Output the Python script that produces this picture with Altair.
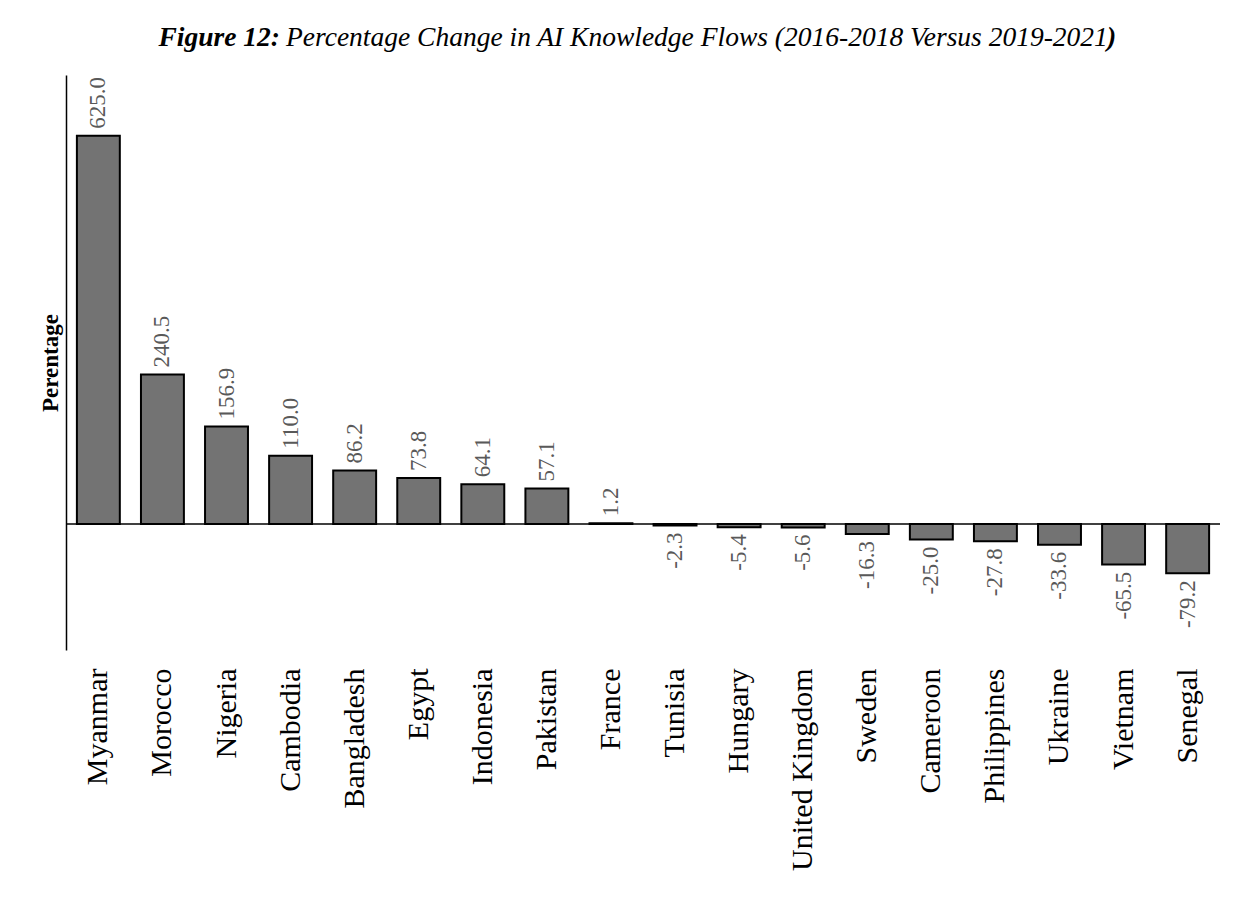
import altair as alt
import pandas as pd

countries = ["Myanmar", "Morocco", "Nigeria", "Cambodia", "Bangladesh", "Egypt",
             "Indonesia", "Pakistan", "France", "Tunisia", "Hungary", "United Kingdom",
             "Sweden", "Cameroon", "Philippines", "Ukraine", "Vietnam", "Senegal"]
values = [625.0, 240.5, 156.9, 110.0, 86.2, 73.8, 64.1, 57.1, 1.2, -2.3, -5.4, -5.6,
          -16.3, -25.0, -27.8, -33.6, -65.5, -79.2]

title_bold = "Figure 12:"
title_main = "Percentage Change in AI Knowledge Flows (2016-2018 Versus 2019-2021"
title_end = ")"

df = pd.DataFrame({"country": countries, "value": values})
df["label"] = df["value"].map(lambda v: f"{v:.1f}")

FONT = "Liberation Serif"

x = alt.X("country:N", sort=countries, title=None,
          scale=alt.Scale(paddingInner=0.33, paddingOuter=0.17),
          axis=alt.Axis(labelAngle=-90, labelAlign="right", labelBaseline="middle",
                        labelFont=FONT, labelFontSize=30, labelColor="black",
                        labelPadding=18, labelLimit=0, ticks=False, domain=False))
y = alt.Y("value:Q", title="Perentage",
          scale=alt.Scale(domain=[-203, 723], nice=False, zero=False),
          axis=alt.Axis(labels=False, ticks=False, grid=False, domain=True,
                        domainColor="black", domainWidth=1.5,
                        titleFont=FONT, titleFontSize=23, titleFontWeight="bold",
                        titleColor="black", titlePadding=4))

base = alt.Chart(df)

bars = base.mark_bar(color="#737373", stroke="black", strokeWidth=2).encode(x=x, y=y)

zero = alt.Chart(pd.DataFrame({"z": [0]})).mark_rule(color="black", strokeWidth=1.5).encode(
    y=alt.Y("z:Q"))

pos_labels = base.transform_filter("datum.value >= 0").mark_text(
    angle=270, align="left", baseline="middle", dx=7, font=FONT, fontSize=23,
    color="#595959").encode(x=x, y=y, text="label:N")

neg_labels = base.transform_filter("datum.value < 0").mark_text(
    angle=270, align="right", baseline="middle", dx=-7, font=FONT, fontSize=23,
    color="#595959").encode(x=x, y=y, text="label:N")

title_df = pd.DataFrame({"a": [title_bold], "b": [title_main], "c": [title_end]})

t1 = alt.Chart(title_df).mark_text(align="right", baseline="alphabetic", font=FONT,
                                   fontSize=27.5, fontWeight="bold", fontStyle="italic",
                                   color="black").encode(
    x=alt.value(214), y=alt.value(-29), text="a:N")
t2 = alt.Chart(title_df).mark_text(align="left", baseline="alphabetic", font=FONT,
                                   fontSize=27.5, fontStyle="italic", color="black").encode(
    x=alt.value(220), y=alt.value(-29), text="b:N")
t3 = alt.Chart(title_df).mark_text(align="left", baseline="alphabetic", font=FONT,
                                   fontSize=27.5, fontWeight="bold", fontStyle="italic",
                                   color="black").encode(
    x=alt.value(1041), y=alt.value(-29), text="c:N")

chart = alt.layer(bars, zero, pos_labels, neg_labels, t1, t2, t3).properties(
    width=1154, height=575,
    padding={"left": 58, "top": 67, "right": 20, "bottom": 240},
    autosize=alt.AutoSizeParams(type="none"),
    background="white",
).configure_view(stroke=None)

chart.save("out.html", embed_options={"renderer": "svg", "actions": False})
